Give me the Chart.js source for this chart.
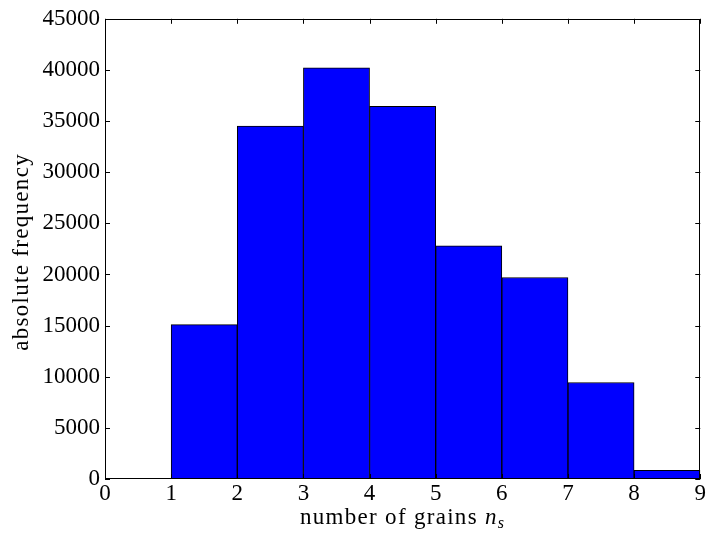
<!DOCTYPE html>
<html>
<head>
<meta charset="utf-8">
<script src="https://cdn.jsdelivr.net/npm/chart.js@4"></script>
<style>
html,body{margin:0;padding:0;background:#fff;}
#wrap{width:707px;height:534px;}
</style>
</head>
<body>
<div id="wrap"><canvas id="c" width="707" height="534"></canvas></div>
<script>
const binCenters = [0.5, 1.5, 2.5, 3.5, 4.5, 5.5, 6.5, 7.5, 8.5];
const counts = [0, 15100, 34500, 40200, 36450, 22800, 19700, 9440, 850];
const xTicks = [0, 1, 2, 3, 4, 5, 6, 7, 8, 9];
const yTicks = [0, 5000, 10000, 15000, 20000, 25000, 30000, 35000, 40000, 45000];
const xTitle = "number of grains nₛ";
const yTitle = "absolute frequency";

const FONT = "'Liberation Serif', 'DejaVu Serif', serif";

const framePlugin = {
  id: 'frame',
  afterDraw(chart) {
    const ctx = chart.ctx, a = chart.chartArea;
    const xs = chart.scales.x, ys = chart.scales.y;
    ctx.save();
    ctx.strokeStyle = '#000';
    ctx.lineWidth = 1;
    ctx.strokeRect(Math.round(a.left) + 0.5, Math.round(a.top) + 0.5,
                   Math.round(a.right - a.left) - 1, Math.round(a.bottom - a.top) - 1);
    const tl = 5;
    ctx.beginPath();
    xTicks.forEach(v => {
      const px = Math.round(xs.getPixelForValue(v)) + 0.5;
      ctx.moveTo(px, a.bottom); ctx.lineTo(px, a.bottom - tl);
      ctx.moveTo(px, a.top); ctx.lineTo(px, a.top + tl);
    });
    yTicks.forEach(v => {
      const py = Math.round(ys.getPixelForValue(v)) + 0.5;
      ctx.moveTo(a.left, py); ctx.lineTo(a.left + tl, py);
      ctx.moveTo(a.right, py); ctx.lineTo(a.right - tl, py);
    });
    ctx.stroke();

    ctx.fillStyle = '#000';
    ctx.textBaseline = 'alphabetic';
    ctx.letterSpacing = '1.3px';
    // x axis title with italic n and subscript s
    const cx = (a.left + a.right) / 2;
    const by = 524;
    const main = "number of grains ";
    ctx.font = "23px " + FONT;
    const w1 = ctx.measureText(main).width;
    ctx.font = "italic 23px " + FONT;
    const w2 = ctx.measureText("n").width;
    ctx.font = "italic 16px " + FONT;
    const w3 = ctx.measureText("s").width;
    let x0 = cx - (w1 + w2 + w3) / 2;
    ctx.textAlign = 'left';
    ctx.font = "23px " + FONT;
    ctx.fillText(main, x0, by);
    ctx.font = "italic 23px " + FONT;
    ctx.fillText("n", x0 + w1, by);
    ctx.font = "italic 16px " + FONT;
    ctx.fillText("s", x0 + w1 + w2, by + 4);

    // y axis title
    ctx.save();
    ctx.translate(28, (a.top + a.bottom) / 2 + 3);
    ctx.rotate(-Math.PI / 2);
    ctx.textAlign = 'center';
    ctx.font = "23px " + FONT;
    ctx.fillText(yTitle, 0, 0);
    ctx.restore();
    ctx.restore();
  }
};

new Chart(document.getElementById('c'), {
  type: 'bar',
  data: {
    datasets: [{
      data: binCenters.map((x, i) => ({x: x, y: counts[i]})),
      backgroundColor: '#0000ff',
      borderColor: '#000000',
      borderWidth: 1,
      borderSkipped: false,
      barPercentage: 1.0,
      categoryPercentage: 1.0
    }]
  },
  options: {
    responsive: false,
    animation: false,
    devicePixelRatio: 1,
    layout: {padding: {top: 17, right: 5, left: 0, bottom: 0}},
    plugins: {legend: {display: false}, tooltip: {enabled: false}},
    scales: {
      x: {
        type: 'linear',
        min: 0, max: 9,
        offset: false,
        afterBuildTicks: s => { s.ticks = xTicks.map(v => ({value: v})); },
        afterFit: s => { s.height = 55; },
        grid: {display: false, drawTicks: false},
        border: {display: false},
        ticks: {font: {family: FONT, size: 23}, color: '#000', padding: 1, maxRotation: 0},
        title: {display: true, text: xTitle, color: 'rgba(0,0,0,0)', font: {family: FONT, size: 23}, padding: 0}
      },
      y: {
        min: 0, max: 45000,
        afterBuildTicks: s => { s.ticks = yTicks.map(v => ({value: v})); },
        afterFit: s => { s.width = 105; },
        grid: {display: false, drawTicks: false},
        border: {display: false},
        ticks: {font: {family: FONT, size: 23}, color: '#000', padding: 5,
                callback: v => String(v)},
        title: {display: true, text: yTitle, color: 'rgba(0,0,0,0)', font: {family: FONT, size: 23}, padding: {top: 0, bottom: 4}}
      }
    }
  },
  plugins: [framePlugin]
});
</script>
</body>
</html>
